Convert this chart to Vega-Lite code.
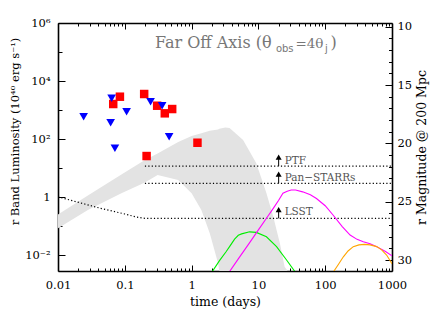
{
  "$schema": "https://vega.github.io/schema/vega-lite/v6.json",
  "width": 334,
  "height": 248,
  "autosize": "none",
  "padding": {"left": 58, "top": 23, "right": 51, "bottom": 46},
  "config": {
    "view": {"stroke": null},
    "font": "DejaVu Serif",
    "axis": {
      "grid": false, "domainColor": "black", "domainWidth": 1.6,
      "tickColor": "black", "tickWidth": 1,
      "labelFont": "DejaVu Serif", "labelFontSize": 11.5, "labelColor": "black",
      "titleFont": "DejaVu Serif", "titleFontWeight": "normal", "titleColor": "black", "titleFontSize": 12.5,
      "labelFlush": false, "labelOverlap": false
    }
  },
  "datasets": {
    "band": [
      {"t": 0.01, "L": 0.251, "L2": 0.0832},
      {"t": 0.028, "L": 1.12, "L2": 0.355},
      {"t": 0.089, "L": 6.03, "L2": 1.35},
      {"t": 0.2, "L": 19.1, "L2": 3.2},
      {"t": 0.31, "L": 32, "L2": 5.75},
      {"t": 0.63, "L": 79.4, "L2": 3.89},
      {"t": 1.0, "L": 126, "L2": 1.35},
      {"t": 1.4, "L": 158, "L2": 0.355},
      {"t": 1.87, "L": 191, "L2": 0.0562},
      {"t": 2.49, "L": 214, "L2": 0.00525},
      {"t": 2.6, "L": 224, "L2": 0.0028},
      {"t": 3.2, "L": 251, "L2": 0.0028},
      {"t": 3.7, "L": 240, "L2": 0.0028},
      {"t": 5.9, "L": 93.3, "L2": 0.0028},
      {"t": 9.3, "L": 14.5, "L2": 0.0028},
      {"t": 13.2, "L": 1.35, "L2": 0.0028},
      {"t": 16.7, "L": 0.209, "L2": 0.0028},
      {"t": 21, "L": 0.0251, "L2": 0.0028},
      {"t": 24.7, "L": 0.00398, "L2": 0.0028},
      {"t": 27.5, "L": 0.0028, "L2": 0.0028}
    ],
    "limits": [
      {"name": "PTF", "t": 0.2, "L": 11.7},
      {"name": "PTF", "t": 1000, "L": 11.7},
      {"name": "Pan", "t": 0.2, "L": 2.97},
      {"name": "Pan", "t": 1000, "L": 2.97},
      {"name": "LSST", "t": 0.01, "L": 1.02},
      {"name": "LSST", "t": 0.043, "L": 0.41},
      {"name": "LSST", "t": 0.1, "L": 0.26},
      {"name": "LSST", "t": 0.15, "L": 0.204},
      {"name": "LSST", "t": 0.2, "L": 0.184},
      {"name": "LSST", "t": 1000, "L": 0.184}
    ],
    "models": [
      {"s": "green", "t": 2.0, "L": 0.00251},
      {"s": "green", "t": 2.6, "L": 0.00631},
      {"s": "green", "t": 3.3, "L": 0.0132},
      {"s": "green", "t": 3.7, "L": 0.0195},
      {"s": "green", "t": 4.4, "L": 0.0355},
      {"s": "green", "t": 5.0, "L": 0.0479},
      {"s": "green", "t": 5.6, "L": 0.0537},
      {"s": "green", "t": 7.4, "L": 0.0631},
      {"s": "green", "t": 9.3, "L": 0.0603},
      {"s": "green", "t": 13.2, "L": 0.0427},
      {"s": "green", "t": 18.7, "L": 0.0195},
      {"s": "green", "t": 26.4, "L": 0.00676},
      {"s": "green", "t": 35.2, "L": 0.00269},
      {"s": "magenta", "t": 3.7, "L": 0.00269},
      {"s": "magenta", "t": 5, "L": 0.00741},
      {"s": "magenta", "t": 7.4, "L": 0.0269},
      {"s": "magenta", "t": 10, "L": 0.0741},
      {"s": "magenta", "t": 13.2, "L": 0.186},
      {"s": "magenta", "t": 16.7, "L": 0.407},
      {"s": "magenta", "t": 20, "L": 0.759},
      {"s": "magenta", "t": 23.3, "L": 1.35},
      {"s": "magenta", "t": 27, "L": 1.58},
      {"s": "magenta", "t": 31, "L": 1.74},
      {"s": "magenta", "t": 36, "L": 1.74},
      {"s": "magenta", "t": 46, "L": 1.51},
      {"s": "magenta", "t": 60, "L": 1.2},
      {"s": "magenta", "t": 74, "L": 0.891},
      {"s": "magenta", "t": 100, "L": 0.501},
      {"s": "magenta", "t": 131, "L": 0.24},
      {"s": "magenta", "t": 180, "L": 0.0955},
      {"s": "magenta", "t": 236, "L": 0.049},
      {"s": "magenta", "t": 300, "L": 0.0347},
      {"s": "magenta", "t": 372, "L": 0.0288},
      {"s": "magenta", "t": 470, "L": 0.0245},
      {"s": "magenta", "t": 590, "L": 0.0195},
      {"s": "magenta", "t": 800, "L": 0.0132},
      {"s": "magenta", "t": 1000, "L": 0.00933},
      {"s": "orange", "t": 131, "L": 0.00251},
      {"s": "orange", "t": 160, "L": 0.00501},
      {"s": "orange", "t": 187, "L": 0.00871},
      {"s": "orange", "t": 220, "L": 0.0138},
      {"s": "orange", "t": 263, "L": 0.0195},
      {"s": "orange", "t": 320, "L": 0.0224},
      {"s": "orange", "t": 390, "L": 0.0234},
      {"s": "orange", "t": 470, "L": 0.0224},
      {"s": "orange", "t": 590, "L": 0.0195},
      {"s": "orange", "t": 700, "L": 0.0151},
      {"s": "orange", "t": 830, "L": 0.01},
      {"s": "orange", "t": 1000, "L": 0.00501}
    ],
    "detections": [
      {"t": 0.0845, "L": 2877},
      {"t": 0.0671, "L": 1610},
      {"t": 0.195, "L": 3565},
      {"t": 0.305, "L": 1406},
      {"t": 0.397, "L": 769},
      {"t": 0.512, "L": 1081},
      {"t": 0.212, "L": 25.9},
      {"t": 1.224, "L": 74.5}
    ],
    "upperLimits": [
      {"t": 0.0242, "L": 588},
      {"t": 0.0635, "L": 2530},
      {"t": 0.1064, "L": 873},
      {"t": 0.0614, "L": 365},
      {"t": 0.0711, "L": 47.8},
      {"t": 0.243, "L": 1932},
      {"t": 0.362, "L": 1406},
      {"t": 0.461, "L": 120}
    ],
    "titleAnchor": [{"t": 0.282, "L": 134000}],
    "shafts": [
      {"t": 20.1, "m": 21.94, "m2": 21.2},
      {"t": 20.1, "m": 23.42, "m2": 22.67},
      {"t": 20.1, "m": 26.42, "m2": 25.71}
    ],
    "heads": [
      {"t": 20.1, "m": 21.17},
      {"t": 20.1, "m": 22.64},
      {"t": 20.1, "m": 25.68}
    ],
    "surveyLabels": [
      {"t": 24.7, "m": 21.48, "label": "PTF"},
      {"t": 24.7, "m": 22.99, "label": "Pan−STARRs"},
      {"t": 24.7, "m": 25.85, "label": "LSST"}
    ]
  },
  "resolve": {"scale": {"y": "independent"}, "axis": {"x": "independent", "y": "independent"}},
  "layer": [
    {
      "encoding": {
        "x": {
          "field": "t", "type": "quantitative",
          "scale": {"type": "log", "domain": [0.01, 1000], "nice": false},
          "axis": {
            "orient": "bottom", "title": "time (days)",
            "values": [0.01,0.02,0.03,0.04,0.05,0.06,0.07,0.08,0.09,0.1,0.2,0.3,0.4,0.5,0.6,0.7,0.8,0.9,1,2,3,4,5,6,7,8,9,10,20,30,40,50,60,70,80,90,100,200,300,400,500,600,700,800,900,1000],
            "tickSize": {"expr": "abs(log(datum.value)/LN10 - round(log(datum.value)/LN10)) < 0.001 ? -6 : -3"},
            "labelExpr": "abs(log(datum.value)/LN10 - round(log(datum.value)/LN10)) < 0.001 ? format(datum.value, '~g') : ''",
            "labelPadding": 14, "titlePadding": 2
          }
        },
        "y": {
          "field": "L", "type": "quantitative",
          "scale": {"type": "log", "domain": [0.002818, 1000000], "nice": false},
          "axis": {
            "orient": "left", "title": "r Band Luminosity (10⁴⁰ erg s⁻¹)",
            "values": [0.01, 0.1, 1, 10, 100, 1000, 10000, 100000, 1000000],
            "tickSize": {"expr": "round(log(datum.value)/LN10) % 2 == 0 ? -7 : -4"},
            "labelExpr": "datum.value > 500000 ? '10⁶' : (datum.value > 5000 && datum.value < 50000) ? '10⁴' : (datum.value > 50 && datum.value < 500) ? '10²' : (datum.value > 0.5 && datum.value < 5) ? '1' : (datum.value > 0.005 && datum.value < 0.05) ? '10⁻²' : ''",
            "labelPadding": 15, "titleFontSize": 11.5, "titleY": 108
          }
        }
      },
      "layer": [
        {
          "data": {"name": "band"},
          "mark": {"type": "area", "color": "#e3e3e3", "clip": true},
          "encoding": {"y2": {"field": "L2"}}
        },
        {
          "data": {"name": "limits"},
          "mark": {"type": "line", "color": "black", "strokeWidth": 1.2, "strokeDash": [1.2, 2.2], "clip": true},
          "encoding": {"detail": {"field": "name"}}
        },
        {
          "data": {"name": "models"},
          "mark": {"type": "line", "strokeWidth": 1.1, "clip": true},
          "encoding": {
            "color": {"field": "s", "type": "nominal", "scale": {"domain": ["green", "magenta", "orange"], "range": ["#00ee00", "#ff00ff", "#ffa500"]}, "legend": null}
          }
        },
        {
          "data": {"name": "detections"},
          "mark": {"type": "point", "shape": "square", "filled": true, "color": "#ff0000", "size": 72, "opacity": 1}
        },
        {
          "data": {"name": "upperLimits"},
          "mark": {"type": "point", "shape": "triangle-down", "filled": true, "color": "#0000ff", "size": 75, "opacity": 1}
        },
        {
          "data": {"name": "titleAnchor"},
          "mark": {"type": "text", "text": "Far Off Axis (θ", "align": "left", "baseline": "alphabetic", "fontSize": 16, "color": "#777777", "font": "DejaVu Serif"}
        },
        {
          "data": {"name": "titleAnchor"},
          "mark": {"type": "text", "text": "obs", "align": "left", "baseline": "alphabetic", "dx": 121, "dy": 3.5, "fontSize": 10, "color": "#777777", "font": "DejaVu Sans"}
        },
        {
          "data": {"name": "titleAnchor"},
          "mark": {"type": "text", "text": "=4θ", "align": "left", "baseline": "alphabetic", "dx": 140.5, "fontSize": 13.5, "color": "#777777", "font": "DejaVu Serif"}
        },
        {
          "data": {"name": "titleAnchor"},
          "mark": {"type": "text", "text": "j", "align": "left", "baseline": "alphabetic", "dx": 170, "dy": 3.5, "fontSize": 10, "color": "#777777", "font": "DejaVu Sans"}
        },
        {
          "data": {"name": "titleAnchor"},
          "mark": {"type": "text", "text": ")", "align": "left", "baseline": "alphabetic", "dx": 175.5, "fontSize": 16, "color": "#777777", "font": "DejaVu Serif"}
        }
      ]
    },
    {
      "encoding": {
        "x": {
          "field": "t", "type": "quantitative",
          "scale": {"type": "log", "domain": [0.01, 1000], "nice": false},
          "axis": {
            "orient": "top", "title": null, "labels": false,
            "values": [0.01,0.02,0.03,0.04,0.05,0.06,0.07,0.08,0.09,0.1,0.2,0.3,0.4,0.5,0.6,0.7,0.8,0.9,1,2,3,4,5,6,7,8,9,10,20,30,40,50,60,70,80,90,100,200,300,400,500,600,700,800,900,1000],
            "tickSize": {"expr": "abs(log(datum.value)/LN10 - round(log(datum.value)/LN10)) < 0.001 ? -6 : -3"}
          }
        },
        "y": {
          "field": "m", "type": "quantitative",
          "scale": {"type": "linear", "domain": [9.683, 30.934], "reverse": true, "nice": false, "zero": false},
          "axis": {
            "orient": "right", "title": "r Magnitude @ 200 Mpc", "titleAngle": 270, "titleBaseline": "top",
            "values": [10,11,12,13,14,15,16,17,18,19,20,21,22,23,24,25,26,27,28,29,30],
            "tickSize": {"expr": "datum.value % 5 == 0 ? -7 : -3.5"},
            "labelExpr": "datum.value % 5 == 0 ? datum.label : ''",
            "labelPadding": 12, "titlePadding": 4
          }
        }
      },
      "layer": [
        {
          "data": {"name": "shafts"},
          "mark": {"type": "rule", "color": "black", "strokeWidth": 1},
          "encoding": {"y2": {"field": "m2"}}
        },
        {
          "data": {"name": "heads"},
          "mark": {"type": "point", "shape": "triangle-up", "filled": true, "color": "black", "size": 36, "opacity": 1}
        },
        {
          "data": {"name": "surveyLabels"},
          "mark": {"type": "text", "align": "left", "baseline": "middle", "fontSize": 10.5, "color": "#555555", "font": "DejaVu Serif"},
          "encoding": {"text": {"field": "label"}}
        }
      ]
    }
  ]
}
